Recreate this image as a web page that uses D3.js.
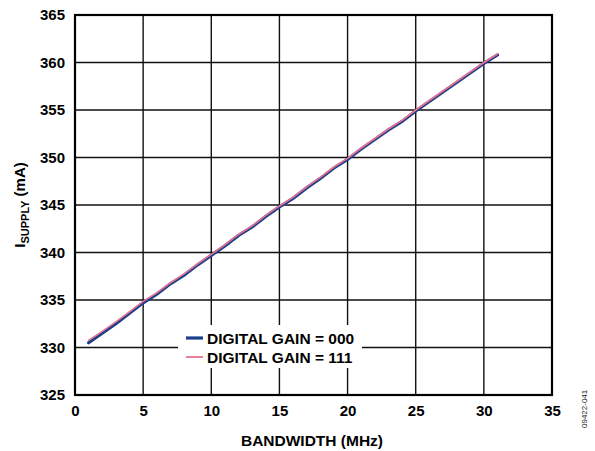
<!DOCTYPE html>
<html>
<head>
<meta charset="utf-8">
<script src="https://cdn.jsdelivr.net/npm/d3@7"></script>
<style>
  body { margin: 0; background: #fff; }
  text { font-family: Arial, "Liberation Sans", sans-serif; }
</style>
</head>
<body>
<div id="chart"></div>
<script>
const bandwidth = [1, 2, 3, 4, 5, 6, 7, 8, 9, 10, 11, 12, 13, 14, 15, 16,
    17, 18, 19, 20, 21, 22, 23, 24, 25, 26, 27, 28, 29, 30, 31];
const gain000 = [330.5, 331.5, 332.5, 333.6, 334.7, 335.6, 336.7, 337.6, 338.7, 339.7,
    340.7, 341.8, 342.7, 343.8, 344.8, 345.7, 346.8, 347.8, 348.9, 349.8,
    350.9, 351.9, 352.9, 353.8, 354.9, 355.9, 356.9, 357.9, 358.9, 359.9, 360.8];
const gain111 = [330.75, 331.7, 332.7, 333.75, 334.85, 335.75, 336.8, 337.75, 338.8, 339.8,
    340.8, 341.9, 342.8, 343.9, 344.9, 345.8, 346.9, 347.9, 349.0, 349.9,
    351.0, 352.0, 353.0, 353.9, 355.0, 356.0, 357.0, 358.0, 359.0, 360.0, 360.9];
const xTicks = [0, 5, 10, 15, 20, 25, 30, 35];
const yTicks = [325, 330, 335, 340, 345, 350, 355, 360, 365];
const seriesNames = ["DIGITAL GAIN = 000", "DIGITAL GAIN = 111"];

const margin = {top: 15, right: 43, bottom: 56, left: 75},
    width = 595 - margin.left - margin.right,
    height = 451 - margin.top - margin.bottom;

const svg = d3.select("#chart").append("svg")
    .attr("width", 595)
    .attr("height", 451);

const g = svg.append("g")
    .attr("transform", "translate(" + margin.left + "," + margin.top + ")");

const x = d3.scaleLinear().domain([0, 35]).range([0, width]);
const y = d3.scaleLinear().domain([325, 365]).range([height, 0]);

// grid
g.append("g")
    .selectAll("line.v")
    .data(xTicks)
    .enter().append("line")
    .attr("x1", d => x(d)).attr("x2", d => x(d))
    .attr("y1", 0).attr("y2", height)
    .attr("stroke", "#111").attr("stroke-width", 1.4);

g.append("g")
    .selectAll("line.h")
    .data(yTicks)
    .enter().append("line")
    .attr("x1", 0).attr("x2", width)
    .attr("y1", d => y(d)).attr("y2", d => y(d))
    .attr("stroke", "#111").attr("stroke-width", 1.4);

// axes labels
const xAxis = d3.axisBottom(x).tickValues(xTicks).tickSize(0).tickPadding(10);
const yAxis = d3.axisLeft(y).tickValues(yTicks).tickSize(0).tickPadding(10);

const xg = g.append("g").attr("transform", "translate(0," + height + ")").call(xAxis);
const yg = g.append("g").call(yAxis);
[xg, yg].forEach(a => {
    a.select(".domain").remove();
    a.selectAll("text")
        .attr("font-size", 15)
        .attr("font-weight", "bold")
        .attr("fill", "#000")
        .style("font-family", "Arial, 'Liberation Sans', sans-serif");
});

// frame
g.append("rect")
    .attr("width", width).attr("height", height)
    .attr("fill", "none").attr("stroke", "#000").attr("stroke-width", 2.2);

// lines
const line = d3.line()
    .x((d, i) => x(bandwidth[i]))
    .y(d => y(d));

g.append("path").datum(gain000)
    .attr("d", line)
    .attr("fill", "none").attr("stroke", "#1b3f8b")
    .attr("stroke-width", 3.2).attr("stroke-linecap", "round");

g.append("path").datum(gain111)
    .attr("d", line)
    .attr("fill", "none").attr("stroke", "#e8728f")
    .attr("stroke-width", 1.6).attr("stroke-linecap", "round");

// legend
const legend = g.append("g").attr("transform", "translate(103,310)");
legend.append("rect")
    .attr("width", 184).attr("height", 43)
    .attr("fill", "#fff");
const lcolors = ["#1b3f8b", "#e8728f"], lwidths = [3.2, 1.8];
seriesNames.forEach((name, i) => {
    const row = legend.append("g").attr("transform", "translate(0," + (13 + i * 19) + ")");
    row.append("line")
        .attr("x1", 8).attr("x2", 25)
        .attr("stroke", lcolors[i]).attr("stroke-width", lwidths[i]);
    row.append("text")
        .attr("x", 29).attr("y", 5.5)
        .attr("font-size", 15.5).attr("font-weight", "bold")
        .text(name);
});

// axis titles
svg.append("text")
    .attr("x", 312).attr("y", 446)
    .attr("text-anchor", "middle")
    .attr("font-size", 15.5).attr("font-weight", "bold")
    .text("BANDWIDTH (MHz)");

const yt = svg.append("text")
    .attr("transform", "translate(25," + (margin.top + height / 2) + ") rotate(-90)")
    .attr("text-anchor", "middle")
    .attr("font-size", 15).attr("font-weight", "bold");
yt.append("tspan").text("I");
yt.append("tspan").attr("font-size", 11).attr("dy", 4).text("SUPPLY");
yt.append("tspan").attr("dy", -4).text(" (mA)");

svg.append("text")
    .attr("transform", "translate(587,428) rotate(-90)")
    .attr("font-size", 8).attr("fill", "#222")
    .text("09422-041");
</script>
</body>
</html>
